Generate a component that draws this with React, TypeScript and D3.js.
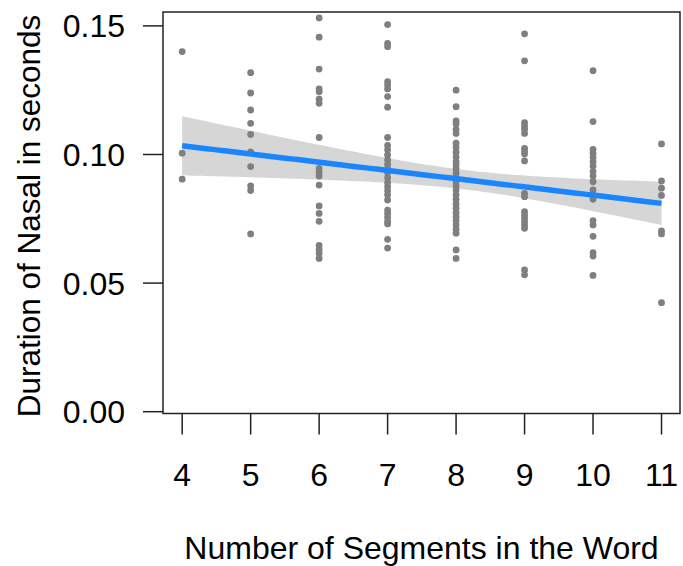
import React from "react";
import * as d3 from "d3";

// Number of segments (x categories)
const segments = [4, 5, 6, 7, 8, 9, 10, 11];

// Nasal durations (s) per segment count
const dur4 = [0.14, 0.1005, 0.0904];
const dur5 = [0.1318, 0.1239, 0.1173, 0.1121, 0.1078, 0.101, 0.0953, 0.0878, 0.086, 0.0691];
const dur6 = [0.1531, 0.1456, 0.1332, 0.1255, 0.1244, 0.1215, 0.1199, 0.1066, 0.0946, 0.0932, 0.0916, 0.0881, 0.08, 0.0771, 0.074, 0.0647, 0.0631, 0.0616, 0.0596];
const dur7 = [0.1505, 0.1432, 0.1419, 0.1283, 0.127, 0.1255, 0.1225, 0.1184, 0.1066, 0.1035, 0.1018, 0.0998, 0.0979, 0.0961, 0.0946, 0.0929, 0.091, 0.0891, 0.0875, 0.0859, 0.0843, 0.0823, 0.0784, 0.0771, 0.0756, 0.074, 0.073, 0.067, 0.0636];
const dur8 = [0.125, 0.1186, 0.1131, 0.1119, 0.1098, 0.1082, 0.1044, 0.1028, 0.1009, 0.0991, 0.0972, 0.0959, 0.0944, 0.0927, 0.0911, 0.0894, 0.0878, 0.0862, 0.0843, 0.0826, 0.0808, 0.0791, 0.0774, 0.0758, 0.0743, 0.0726, 0.0709, 0.0694, 0.0629, 0.0596];
const dur9 = [0.1469, 0.1364, 0.1124, 0.1111, 0.1098, 0.1082, 0.1024, 0.1014, 0.1002, 0.0975, 0.0849, 0.0836, 0.0778, 0.0765, 0.0752, 0.0739, 0.0726, 0.0713, 0.0551, 0.0532];
const dur10 = [0.1326, 0.1128, 0.102, 0.1005, 0.0989, 0.0972, 0.0955, 0.0933, 0.0916, 0.0894, 0.0862, 0.0843, 0.0826, 0.0743, 0.0726, 0.0682, 0.0618, 0.0605, 0.053];
const dur11 = [0.1041, 0.0897, 0.0869, 0.0841, 0.0703, 0.0691, 0.0424];

const durations = [dur4, dur5, dur6, dur7, dur8, dur9, dur10, dur11];

// Linear smooth: fitted values at the ends
const fitX = [4, 11];
const fitY = [0.1034, 0.081];
// Half-width of the 95% confidence band at three x positions
const bandX = [4, 8, 11];
const bandHalf = [0.0115, 0.0038, 0.00845];

const yTicks = [0, 0.05, 0.1, 0.15];
const xTitle = "Number of Segments in the Word";
const yTitle = "Duration of Nasal in seconds";

export default function App() {
  const W = 683;
  const H = 566;
  const left = 163, right = 680, top = 12, bottom = 413.5;

  const x = d3.scaleLinear().domain([3.72, 11.27]).range([left, right]);
  const y = d3.scaleLinear().domain([-0.0007, 0.1554]).range([bottom, top]);

  const pts: { sx: number; v: number }[] = [];
  segments.forEach((s, i) => durations[i].forEach((v) => pts.push({ sx: s, v })));

  // straight fitted line
  const fitScale = d3.scaleLinear().domain(fitX).range(fitY);
  // hyperbolic confidence half-width through the three read widths
  const [x0, x1, x2] = bandX;
  const h2 = bandHalf.map((h) => h * h);
  const d1 = h2[0] - h2[2];
  const d2 = h2[0] - h2[1];
  const r = d1 / d2;
  const xc = (x0 * x0 - x2 * x2 - r * (x0 * x0 - x1 * x1)) / (2 * (x0 - x2) - 2 * r * (x0 - x1));
  const B = d2 / (x0 * x0 - x1 * x1 - 2 * xc * (x0 - x1));
  const A = h2[1] - B * (x1 - xc) ** 2;

  const grid = d3.range(0, 80).map((i) => fitX[0] + ((fitX[1] - fitX[0]) * i) / 79);
  const fit = grid.map((g) => {
    const f = fitScale(g);
    const hw = Math.sqrt(Math.max(0, A + B * (g - xc) ** 2));
    return { g, f, lo: f - hw, hi: f + hw };
  });

  const area = d3
    .area<{ g: number; lo: number; hi: number }>()
    .x((d) => x(d.g))
    .y0((d) => y(d.lo))
    .y1((d) => y(d.hi));
  const line = d3
    .line<{ g: number; f: number }>()
    .x((d) => x(d.g))
    .y((d) => y(d.f));

  const font = "'Liberation Sans', Arial, sans-serif";
  const fs = 32;

  return (
    <svg width={W} height={H} style={{ position: "absolute", left: 0, top: 0 }} fontFamily={font}>
      <rect x={0} y={0} width={W} height={H} fill="#fff" />
      <path d={area(fit) || ""} fill="#d6d6d6" />
      {pts.map((p, i) => (
        <circle key={i} cx={x(p.sx)} cy={y(p.v)} r={3.4} fill="#7f7f7f" />
      ))}
      <path d={line(fit) || ""} fill="none" stroke="#1a85ff" strokeWidth={5.5} />
      <rect x={left} y={top} width={right - left} height={bottom - top} fill="none" stroke="#222" strokeWidth={1.5} />
      {yTicks.map((t) => (
        <g key={t}>
          <line x1={143} x2={left} y1={y(t)} y2={y(t)} stroke="#222" strokeWidth={1.5} />
          <text x={125} y={y(t)} dy="0.36em" textAnchor="end" fontSize={fs} fill="#000">
            {d3.format(".2f")(t)}
          </text>
        </g>
      ))}
      {segments.map((t) => (
        <g key={t}>
          <line x1={x(t)} x2={x(t)} y1={bottom} y2={434.5} stroke="#222" strokeWidth={1.5} />
          <text x={x(t)} y={486} textAnchor="middle" fontSize={fs} fill="#000">
            {t}
          </text>
        </g>
      ))}
      <text x={(left + right) / 2} y={559} textAnchor="middle" fontSize={fs} fill="#000">
        {xTitle}
      </text>
      <text transform={`translate(40, ${216}) rotate(-90)`} textAnchor="middle" fontSize={31.5} fill="#000">
        {yTitle}
      </text>
    </svg>
  );
}
